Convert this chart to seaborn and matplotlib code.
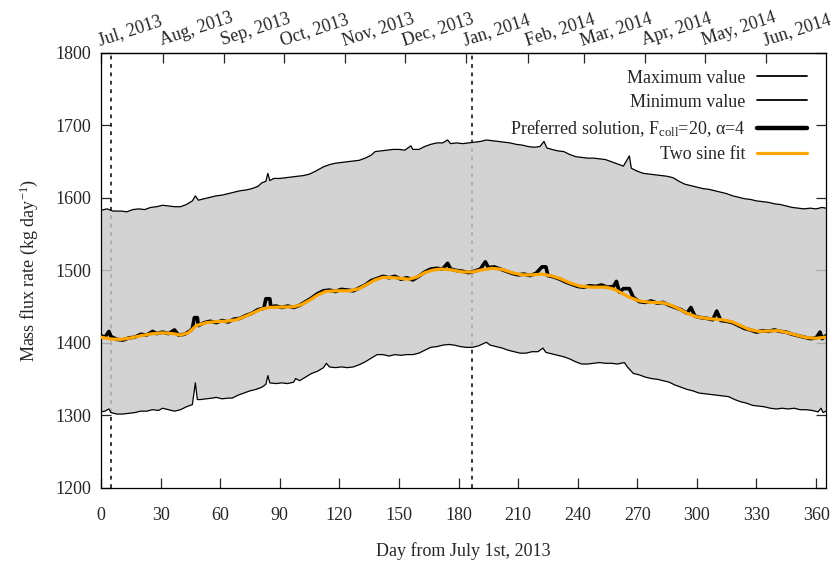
import numpy as np
import matplotlib
matplotlib.use("Agg")
import matplotlib.pyplot as plt
from matplotlib.lines import Line2D
import seaborn as sns
import pandas as pd

# ---- data -------------------------------------------------------------
max_days = [0, 3, 6, 10, 13, 16, 19, 22, 25, 28, 31, 34, 37, 40, 43, 46, 47.5, 49, 52, 55,
            58, 61, 64, 67, 70, 73, 76, 79, 81, 83, 84, 85, 87, 90, 93, 96, 99, 102, 105, 108,
            110, 112, 115, 118, 121, 124, 127, 130, 133, 136, 138, 141, 144, 147, 150, 153, 156,
            157, 160, 163, 166, 169, 172, 174.5, 176, 179, 182, 185, 188, 191, 194, 197, 200,
            203, 206, 209, 212, 215, 218, 221, 223, 224.5, 227, 230, 233, 236, 239, 242, 245,
            248, 251, 254, 257, 260, 263, 266, 267, 270, 273, 276, 279, 282, 285, 288, 291, 294,
            297, 300, 303, 306, 309, 312, 315, 318, 321, 324, 327, 330, 333, 336, 339, 342, 345,
            348, 351, 354, 357, 360, 363, 365]
max_vals = [1583, 1585, 1582, 1582, 1581, 1584, 1585, 1584, 1587, 1588, 1590, 1589, 1588, 1588,
            1591, 1596, 1603, 1597, 1599, 1601, 1603, 1604, 1606, 1608, 1610, 1611, 1613, 1616,
            1621, 1623, 1634, 1624, 1627, 1627, 1628, 1629, 1630, 1631, 1633, 1637, 1640, 1643,
            1646, 1648, 1649, 1650, 1651, 1652, 1655, 1659, 1664, 1665, 1666, 1667, 1667, 1666,
            1672, 1667, 1667, 1671, 1674, 1676, 1676, 1680, 1675, 1676, 1675, 1676, 1677, 1678,
            1680, 1679, 1678, 1677, 1676, 1674, 1673, 1671, 1670, 1671, 1678, 1669, 1667, 1665,
            1664, 1660, 1657, 1656, 1655, 1655, 1654, 1653, 1650, 1647, 1644, 1658, 1641, 1637,
            1634, 1633, 1632, 1631, 1630, 1628, 1623, 1619, 1617, 1615, 1613, 1612, 1610, 1608,
            1606, 1603, 1601, 1599, 1598, 1596, 1595, 1594, 1592, 1591, 1589, 1587, 1586, 1585,
            1586, 1585, 1587, 1586]

min_days = [0, 2, 4, 5, 8, 11, 14, 17, 20, 23, 26, 29, 31, 34, 37, 40, 43, 46, 47.5, 48.5, 50,
            53, 56, 58, 61, 64, 66, 69, 72, 75, 78, 81, 83, 84, 85, 88, 91, 94, 97, 98, 100, 103,
            106, 109, 112, 113.5, 115, 118, 121, 124, 127, 130, 133, 136, 139, 142, 145, 148,
            151, 154, 157, 160, 163, 166, 169, 172, 175, 178, 181, 184, 187, 190, 194, 196, 199,
            202, 205, 208, 211, 214, 217, 220, 222.5, 224, 227, 230, 233, 236, 239, 242, 245,
            248, 251, 254, 257, 260, 263.5, 265, 268, 271, 274, 277, 280, 283, 286, 289, 292,
            295, 298, 301, 304, 307, 310, 313, 316, 319, 322, 325, 328, 331, 334, 337, 340, 343,
            346, 349, 352, 355, 358, 361, 362.5, 363.5, 365]
min_vals = [1305, 1306, 1309, 1304, 1302, 1302, 1303, 1304, 1306, 1306, 1308, 1307, 1310, 1308,
            1306, 1308, 1312, 1315, 1345, 1322, 1322, 1323, 1324, 1325, 1323, 1324, 1324, 1328,
            1331, 1334, 1336, 1339, 1343, 1355, 1345, 1344, 1345, 1344, 1346, 1351, 1348, 1353,
            1358, 1361, 1366, 1372, 1367, 1366, 1367, 1366, 1367, 1370, 1374, 1379, 1384, 1384,
            1382, 1384, 1383, 1384, 1384, 1386, 1390, 1394, 1395, 1397, 1398, 1397, 1395, 1394,
            1394, 1396, 1401, 1397, 1395, 1393, 1390, 1388, 1386, 1386, 1388, 1388, 1393, 1387,
            1385, 1383, 1381, 1378, 1374, 1371, 1371, 1372, 1373, 1372, 1372, 1371, 1373, 1367,
            1358, 1356, 1353, 1351, 1350, 1348, 1346, 1342, 1339, 1336, 1334, 1331, 1330, 1329,
            1328, 1327, 1326, 1322, 1319, 1317, 1314, 1313, 1312, 1310, 1309, 1310, 1309, 1310,
            1308, 1308, 1307, 1305, 1310, 1304, 1306]

pref_days = [0, 2, 4, 5, 8, 11, 14, 17, 20, 23, 26, 28, 31, 34, 37, 39, 42, 45, 46, 47, 48.5,
             49, 52, 55, 58, 61, 64, 67, 70, 73, 76, 79, 82, 83, 85, 85.5, 88, 91, 94, 97, 100,
             103, 106, 109, 112, 115, 118, 121, 124, 127, 130, 133, 136, 139, 142, 145, 148, 151,
             154, 157, 160, 163, 166, 169, 172, 174.5, 176, 179, 182, 185, 188, 191, 193.5, 195,
             198, 201, 204, 207, 210, 213, 216, 219, 222, 224, 225, 228, 231, 234, 237, 240, 243,
             246, 249, 252, 255, 258, 259.5, 261, 263, 266, 268, 271, 274, 277, 280, 283, 286,
             289, 292, 295, 297, 299, 302, 305, 308, 310, 312, 315, 318, 321, 324, 327, 330, 333,
             336, 339, 342, 345, 348, 351, 354, 357, 360, 362, 363, 365]
pref_vals = [1410, 1408, 1416, 1409, 1405, 1404, 1407, 1408, 1412, 1411, 1416, 1413, 1415, 1413,
             1418, 1411, 1412, 1417, 1420, 1435, 1435, 1424, 1428, 1430, 1428, 1431, 1429, 1433,
             1434, 1438, 1441, 1446, 1448, 1461, 1461, 1450, 1451, 1449, 1451, 1449, 1452, 1457,
             1462, 1468, 1472, 1473, 1471, 1474, 1473, 1472, 1476, 1480, 1486, 1489, 1492, 1490,
             1492, 1488, 1490, 1487, 1492, 1498, 1502, 1503, 1502, 1510, 1502, 1500, 1499, 1497,
             1499, 1502, 1512, 1504, 1505, 1502, 1499, 1496, 1494, 1495, 1493, 1496, 1505, 1505,
             1493, 1491, 1488, 1484, 1481, 1478, 1477, 1479, 1478, 1480, 1477, 1478, 1485, 1470,
             1475, 1475, 1463, 1457, 1456, 1458, 1455, 1456, 1452, 1449, 1446, 1441, 1449, 1437,
             1435, 1434, 1432, 1444, 1431, 1430, 1428, 1424, 1420, 1418, 1415, 1417, 1416, 1418,
             1416, 1415, 1412, 1410, 1408, 1406, 1407, 1415, 1406, 1410]

fit_days = [0, 5, 10, 15, 20, 25, 31, 36, 40, 44, 48, 53, 58, 63, 68, 72, 77, 81, 85, 90, 97,
            101, 105, 109, 113, 118, 125, 130, 134, 138, 142, 148, 155, 159, 163, 167, 171, 176,
            182, 187, 192, 197, 202, 207, 212, 217, 222, 227, 231, 236, 241, 247, 254, 258, 262,
            266, 271, 277, 283, 287, 291, 295, 300, 306, 313, 318, 322, 326, 331, 336, 341, 346,
            350, 355, 360, 365]
fit_vals = [1408, 1405.5, 1405, 1407, 1410, 1412.5, 1414, 1413, 1411, 1414, 1424, 1428, 1429.5,
            1430, 1432, 1436, 1442, 1447, 1449, 1449.5, 1450, 1453, 1459, 1466, 1471, 1472, 1472,
            1475, 1481, 1487, 1490.5, 1490, 1488, 1491, 1497, 1500.5, 1502, 1501, 1498, 1498,
            1501, 1503, 1501.5, 1497, 1494, 1494, 1495, 1492.5, 1489, 1483, 1478.5, 1477, 1477,
            1474.5, 1469, 1463, 1458, 1456, 1455.5, 1452, 1447, 1441, 1436, 1433.5, 1432, 1429,
            1424, 1419, 1416, 1416.5, 1417, 1414, 1411, 1407.5, 1406.5, 1408]

aphelion_day = 5
perihelion_day = 187

day_ticks = list(range(0, 361, 30))
month_days = [0, 31, 62, 92, 123, 153, 184, 215, 243, 274, 304, 335]
month_labels = ["Jul, 2013", "Aug, 2013", "Sep, 2013", "Oct, 2013", "Nov, 2013", "Dec, 2013",
                "Jan, 2014", "Feb, 2014", "Mar, 2014", "Apr, 2014", "May, 2014", "Jun, 2014"]

# ---- style ------------------------------------------------------------
sns.set_theme(style="ticks")
plt.rcParams["font.family"] = ["Liberation Serif", "DejaVu Serif"]
plt.rcParams["mathtext.fontset"] = "custom"
plt.rcParams["mathtext.rm"] = "Liberation Serif"
plt.rcParams["mathtext.it"] = "Liberation Serif:italic"
plt.rcParams["font.size"] = 13
FS = 13

fig = plt.figure(figsize=(8.4, 5.63), dpi=100)
ax = fig.add_axes([101 / 840, 1 - 488 / 563, 725 / 840, 435 / 563])

# reference epochs
for d in (aphelion_day, perihelion_day):
    ax.axvline(d, color="black", lw=1.1, ls=(0, (2.5, 3)), zorder=1)

# envelope between the extreme solutions
ax.fill(np.concatenate([max_days, min_days[::-1]]),
        np.concatenate([max_vals, min_vals[::-1]]),
        color="#cacaca", alpha=0.82, lw=0, zorder=2)

df_max = pd.DataFrame({"day": max_days, "rate": max_vals})
df_min = pd.DataFrame({"day": min_days, "rate": min_vals})
df_pref = pd.DataFrame({"day": pref_days, "rate": pref_vals})
df_fit = pd.DataFrame({"day": fit_days, "rate": fit_vals})

sns.lineplot(data=df_max, x="day", y="rate", color="black", lw=0.9, ax=ax,
             estimator=None, sort=False, zorder=3)
sns.lineplot(data=df_min, x="day", y="rate", color="black", lw=0.9, ax=ax,
             estimator=None, sort=False, zorder=3)
sns.lineplot(data=df_pref, x="day", y="rate", color="black", lw=2.6, ax=ax,
             estimator=None, sort=False, zorder=4)
sns.lineplot(data=df_fit, x="day", y="rate", color="#ffa500", lw=2.3, ax=ax,
             estimator=None, sort=False, zorder=5)

ax.set_xlim(0, 365)
ax.set_ylim(1200, 1800)
ax.set_xticks(day_ticks)
ax.set_yticks(range(1200, 1801, 100))
ax.tick_params(axis="x", direction="in", length=7, width=0.9, pad=14,
               labelsize=FS, top=False)
ax.tick_params(axis="y", direction="in", length=7, width=0.9, pad=7,
               labelsize=FS, right=True)
for s in ax.spines.values():
    s.set_linewidth(0.9)
    s.set_color("black")

ax.set_xlabel("Day from July 1st, 2013", fontsize=FS, labelpad=13)
ax.set_ylabel(r"Mass flux rate (kg day$^{-1}$)", fontsize=FS, labelpad=11)

# calendar months along the top edge
top = ax.secondary_xaxis("top")
top.set_xticks(month_days)
top.set_xticklabels(month_labels, rotation=18, ha="left", va="bottom",
                    rotation_mode="anchor")
top.tick_params(direction="in", length=7, width=0.9, pad=3, labelsize=FS)
top.spines["top"].set_linewidth(0.9)

handles = [
    Line2D([], [], color="black", lw=1.3),
    Line2D([], [], color="black", lw=1.3),
    Line2D([], [], color="black", lw=3.2),
    Line2D([], [], color="#ffa500", lw=2.3),
]
labels = [
    "Maximum value",
    "Minimum value",
    r"Preferred solution, F$_{\mathrm{coll}}$=20, α=4",
    "Two sine fit",
]
ax.legend(handles, labels, loc="upper right", bbox_to_anchor=(0.974, 0.962),
          frameon=False, markerfirst=False, borderpad=0, borderaxespad=0,
          handlelength=2.8, handletextpad=0.6, labelspacing=0.4, fontsize=FS)

fig.savefig("out.png", dpi=100)
